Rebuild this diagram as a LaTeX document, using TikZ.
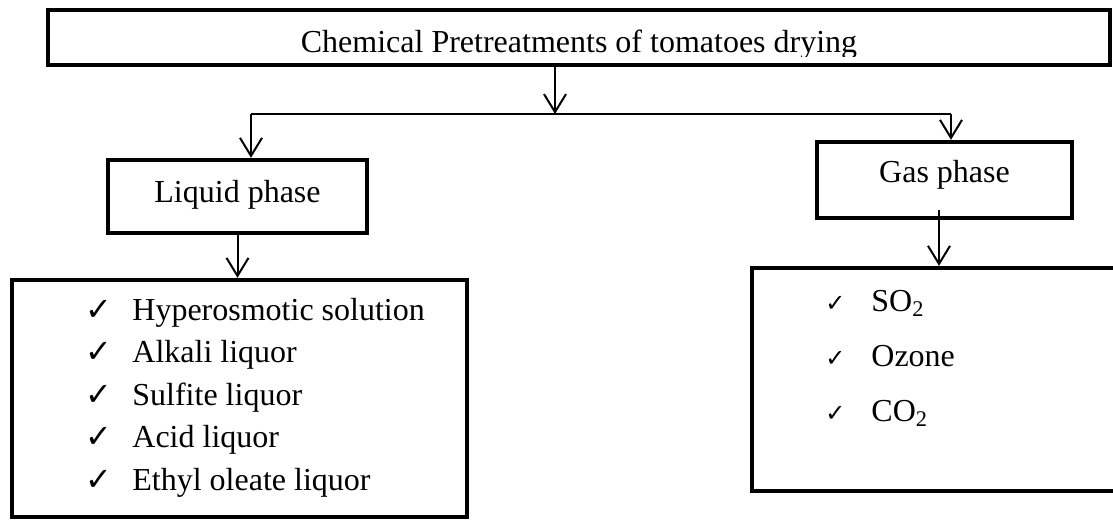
\documentclass[tikz,border=0pt]{standalone}
\usepackage{fontspec}
\setmainfont{Liberation Serif}
\newfontfamily\chkfont{DejaVu Sans}
\usetikzlibrary{arrows.meta}
\newcommand{\chk}[1]{\makebox[#1][l]{\chkfont\char"2713}}

\begin{document}
\begin{tikzpicture}[
		x=0.5pt, y=-0.5pt,
		font=\fontsize{16}{19}\selectfont,
		X/.style = {rectangle, draw, line width=2.2pt,% boxes with a heavy frame
			inner sep=0pt, text height=11pt},
		I/.style = {anchor=base west, inner sep=0pt},% one line of a list
		A/.style = {draw, line width=1pt,
			-{Straight Barb[length=9pt, width=11pt, line width=1pt]}},
		C/.style = {draw, line width=0.8pt},
		]
		\useasboundingbox (0,0) rectangle (1113,521);
		% boxes
		\node[X, minimum width=531pt, minimum height=27.5pt] (title) at (579,37.5) {};
		\begin{scope}
			\clip (48,10) rectangle (1110,56);% text is cut off at the bottom
			\node[anchor=base, inner sep=0pt] (titletxt) at (579,52) {Chemical Pretreatments of tomatoes drying};
		\end{scope}
		\node[X, minimum width=129.5pt, minimum height=36.5pt, text depth=5.5pt] (lq) at (237.5,196.5) {Liquid phase};
		\node[X, minimum width=127.5pt, minimum height=38pt, text depth=9pt] (gas) at (944.5,180) {Gas phase};
		\node[X, minimum width=227.5pt, minimum height=118.5pt] (ll) at (239.5,398.5) {};
		\node[X, minimum width=186.5pt, minimum height=111.5pt] (gl) at (938.5,379.5) {};
		% lists
		\foreach \t [count=\i] in {Hyperosmotic solution, Alkali liquor,
			Sulfite liquor, Acid liquor, Ethyl oleate liquor}
		\node[I] (l\i) at (85,{277.5+42.5*\i}) {\chk{23.5pt}\t};
		\foreach \t [count=\i] in {SO\textsubscript{2}, Ozone, CO\textsubscript{2}}
		\node[I] (g\i) at (825,{256+55*\i}) {{\fontsize{12}{14}\selectfont\chk{23pt}}\t};
		% connectors
		\coordinate (j) at (555,114);
		\coordinate (jl) at (251,114);
		\coordinate (jg) at (951,114);
		\draw[A] (title.south -| j) -- (j);
		\draw[C] (jl) -- (jg);
		\draw[A] (jl) -- (jl |- lq.north);
		\draw[A] (jg) -- (jg |- gas.north);
		\draw[A] (lq.south) -- (lq.south |- ll.north);
		\draw[A] ([xshift=-2.75pt, yshift=5pt]gas.south) -- ([xshift=-2.75pt]gas.south |- gl.north);
	\end{tikzpicture}
\end{document}
